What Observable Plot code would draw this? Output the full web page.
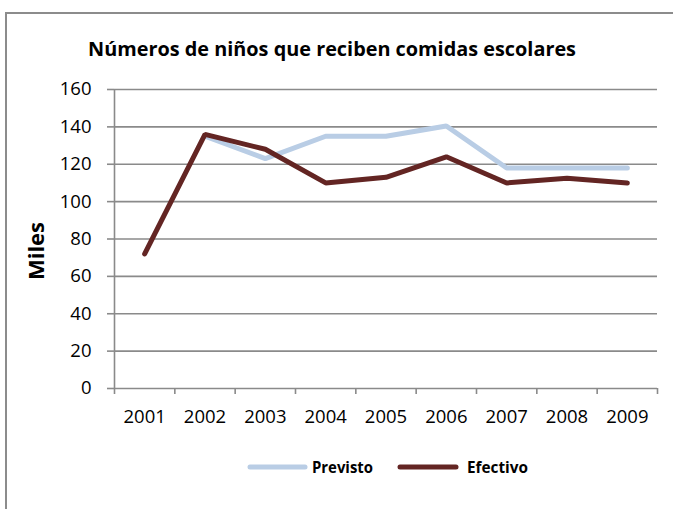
<!DOCTYPE html>
<html>
<head>
<meta charset="utf-8">
<script src="https://cdn.jsdelivr.net/npm/d3@7"></script>
<script src="https://cdn.jsdelivr.net/npm/@observablehq/plot@0.6"></script>
<style>
  html, body { margin: 0; padding: 0; background: #fff; }
  #chart { width: 673px; height: 509px; overflow: hidden; }
</style>
</head>
<body>
<div id="chart"></div>
<script>
const title = "Números de niños que reciben comidas escolares";
const yLabel = "Miles";
const years = [2001, 2002, 2003, 2004, 2005, 2006, 2007, 2008, 2009];
const previsto = [null, 135, 123, 135, 135, 140.5, 118, 118, 118];
const efectivo = [72, 136, 128, 110, 113, 124, 110, 112.5, 110];
const seriesNames = ["Previsto", "Efectivo"];
const yTicks = [0, 20, 40, 60, 80, 100, 120, 140, 160];

const colors = { Previsto: "#b9cde5", Efectivo: "#632523" };
const gridColor = "#8a8a8a";
const font = "'Open Sans', 'Liberation Sans', sans-serif";

const rows = [];
years.forEach((yr, i) => {
  if (previsto[i] != null) rows.push({ year: yr, value: previsto[i], series: "Previsto" });
});
years.forEach((yr, i) => {
  if (efectivo[i] != null) rows.push({ year: yr, value: efectivo[i], series: "Efectivo" });
});
const boundaries = [years[0] - 0.5, ...years.map(y => y + 0.5)];

const plot = Plot.plot({
  width: 673,
  height: 509,
  marginTop: 89,
  marginBottom: 121,
  marginLeft: 114,
  marginRight: 16,
  style: { fontFamily: font, fontSize: "18.5px", color: "#000", background: "transparent" },
  x: { type: "linear", domain: [years[0] - 0.5, years[years.length - 1] + 0.5] },
  y: { domain: [0, 160] },
  marks: [
    Plot.ruleY(yTicks, { stroke: gridColor, strokeWidth: 1.6 }),
    Plot.ruleX([years[0] - 0.5], { stroke: gridColor, strokeWidth: 1.6 }),
    Plot.axisY({ ticks: yTicks, tickSize: 7, tickPadding: 16, stroke: gridColor, strokeWidth: 1.6, strokeOpacity: 1, label: null, fill: "#000" }),
    Plot.axisX({ ticks: boundaries, tickFormat: () => "", tickSize: 6, stroke: gridColor, strokeWidth: 1.6, strokeOpacity: 1, label: null }),
    Plot.axisX({ ticks: years, tickFormat: d => String(d), tickSize: 0, tickPadding: 21, label: null, fill: "#000" }),
    Plot.line(rows.filter(d => d.series === "Previsto"), { x: "year", y: "value", stroke: colors.Previsto, strokeWidth: 5, strokeLinejoin: "miter", strokeLinecap: "round" }),
    Plot.line(rows.filter(d => d.series === "Efectivo"), { x: "year", y: "value", stroke: colors.Efectivo, strokeWidth: 5, strokeLinejoin: "miter", strokeLinecap: "round" })
  ]
});

document.getElementById("chart").appendChild(plot);

const svg = d3.select(plot);
// chart border
svg.append("rect")
  .attr("x", 6).attr("y", 13).attr("width", 720).attr("height", 600)
  .attr("fill", "none").attr("stroke", "#8c8c8c").attr("stroke-width", 2);

// title
svg.append("text")
  .attr("x", 88).attr("y", 56)
  .attr("text-anchor", "start")
  .attr("font-family", font).attr("font-weight", "bold").attr("font-size", 19)
  .attr("textLength", 488).attr("lengthAdjust", "spacingAndGlyphs")
  .attr("fill", "#000")
  .text(title);

// y label
svg.append("text")
  .attr("transform", "translate(44,251) rotate(-90)")
  .attr("text-anchor", "middle")
  .attr("font-family", font).attr("font-weight", "bold").attr("font-size", 21)
  .attr("textLength", 58).attr("lengthAdjust", "spacingAndGlyphs")
  .attr("fill", "#000")
  .text(yLabel);

// legend
const legend = [
  { name: seriesNames[0], x0: 250, x1: 305, tx: 312 },
  { name: seriesNames[1], x0: 400, x1: 456, tx: 467 }
];
legend.forEach(l => {
  svg.append("line")
    .attr("x1", l.x0).attr("x2", l.x1).attr("y1", 467).attr("y2", 467)
    .attr("stroke", colors[l.name]).attr("stroke-width", 5).attr("stroke-linecap", "round");
  svg.append("text")
    .attr("x", l.tx).attr("y", 473)
    .attr("text-anchor", "start")
    .attr("font-family", font).attr("font-weight", "bold").attr("font-size", 16)
    .attr("textLength", 61).attr("lengthAdjust", "spacingAndGlyphs")
    .attr("fill", "#000")
    .text(l.name);
});
</script>
</body>
</html>
